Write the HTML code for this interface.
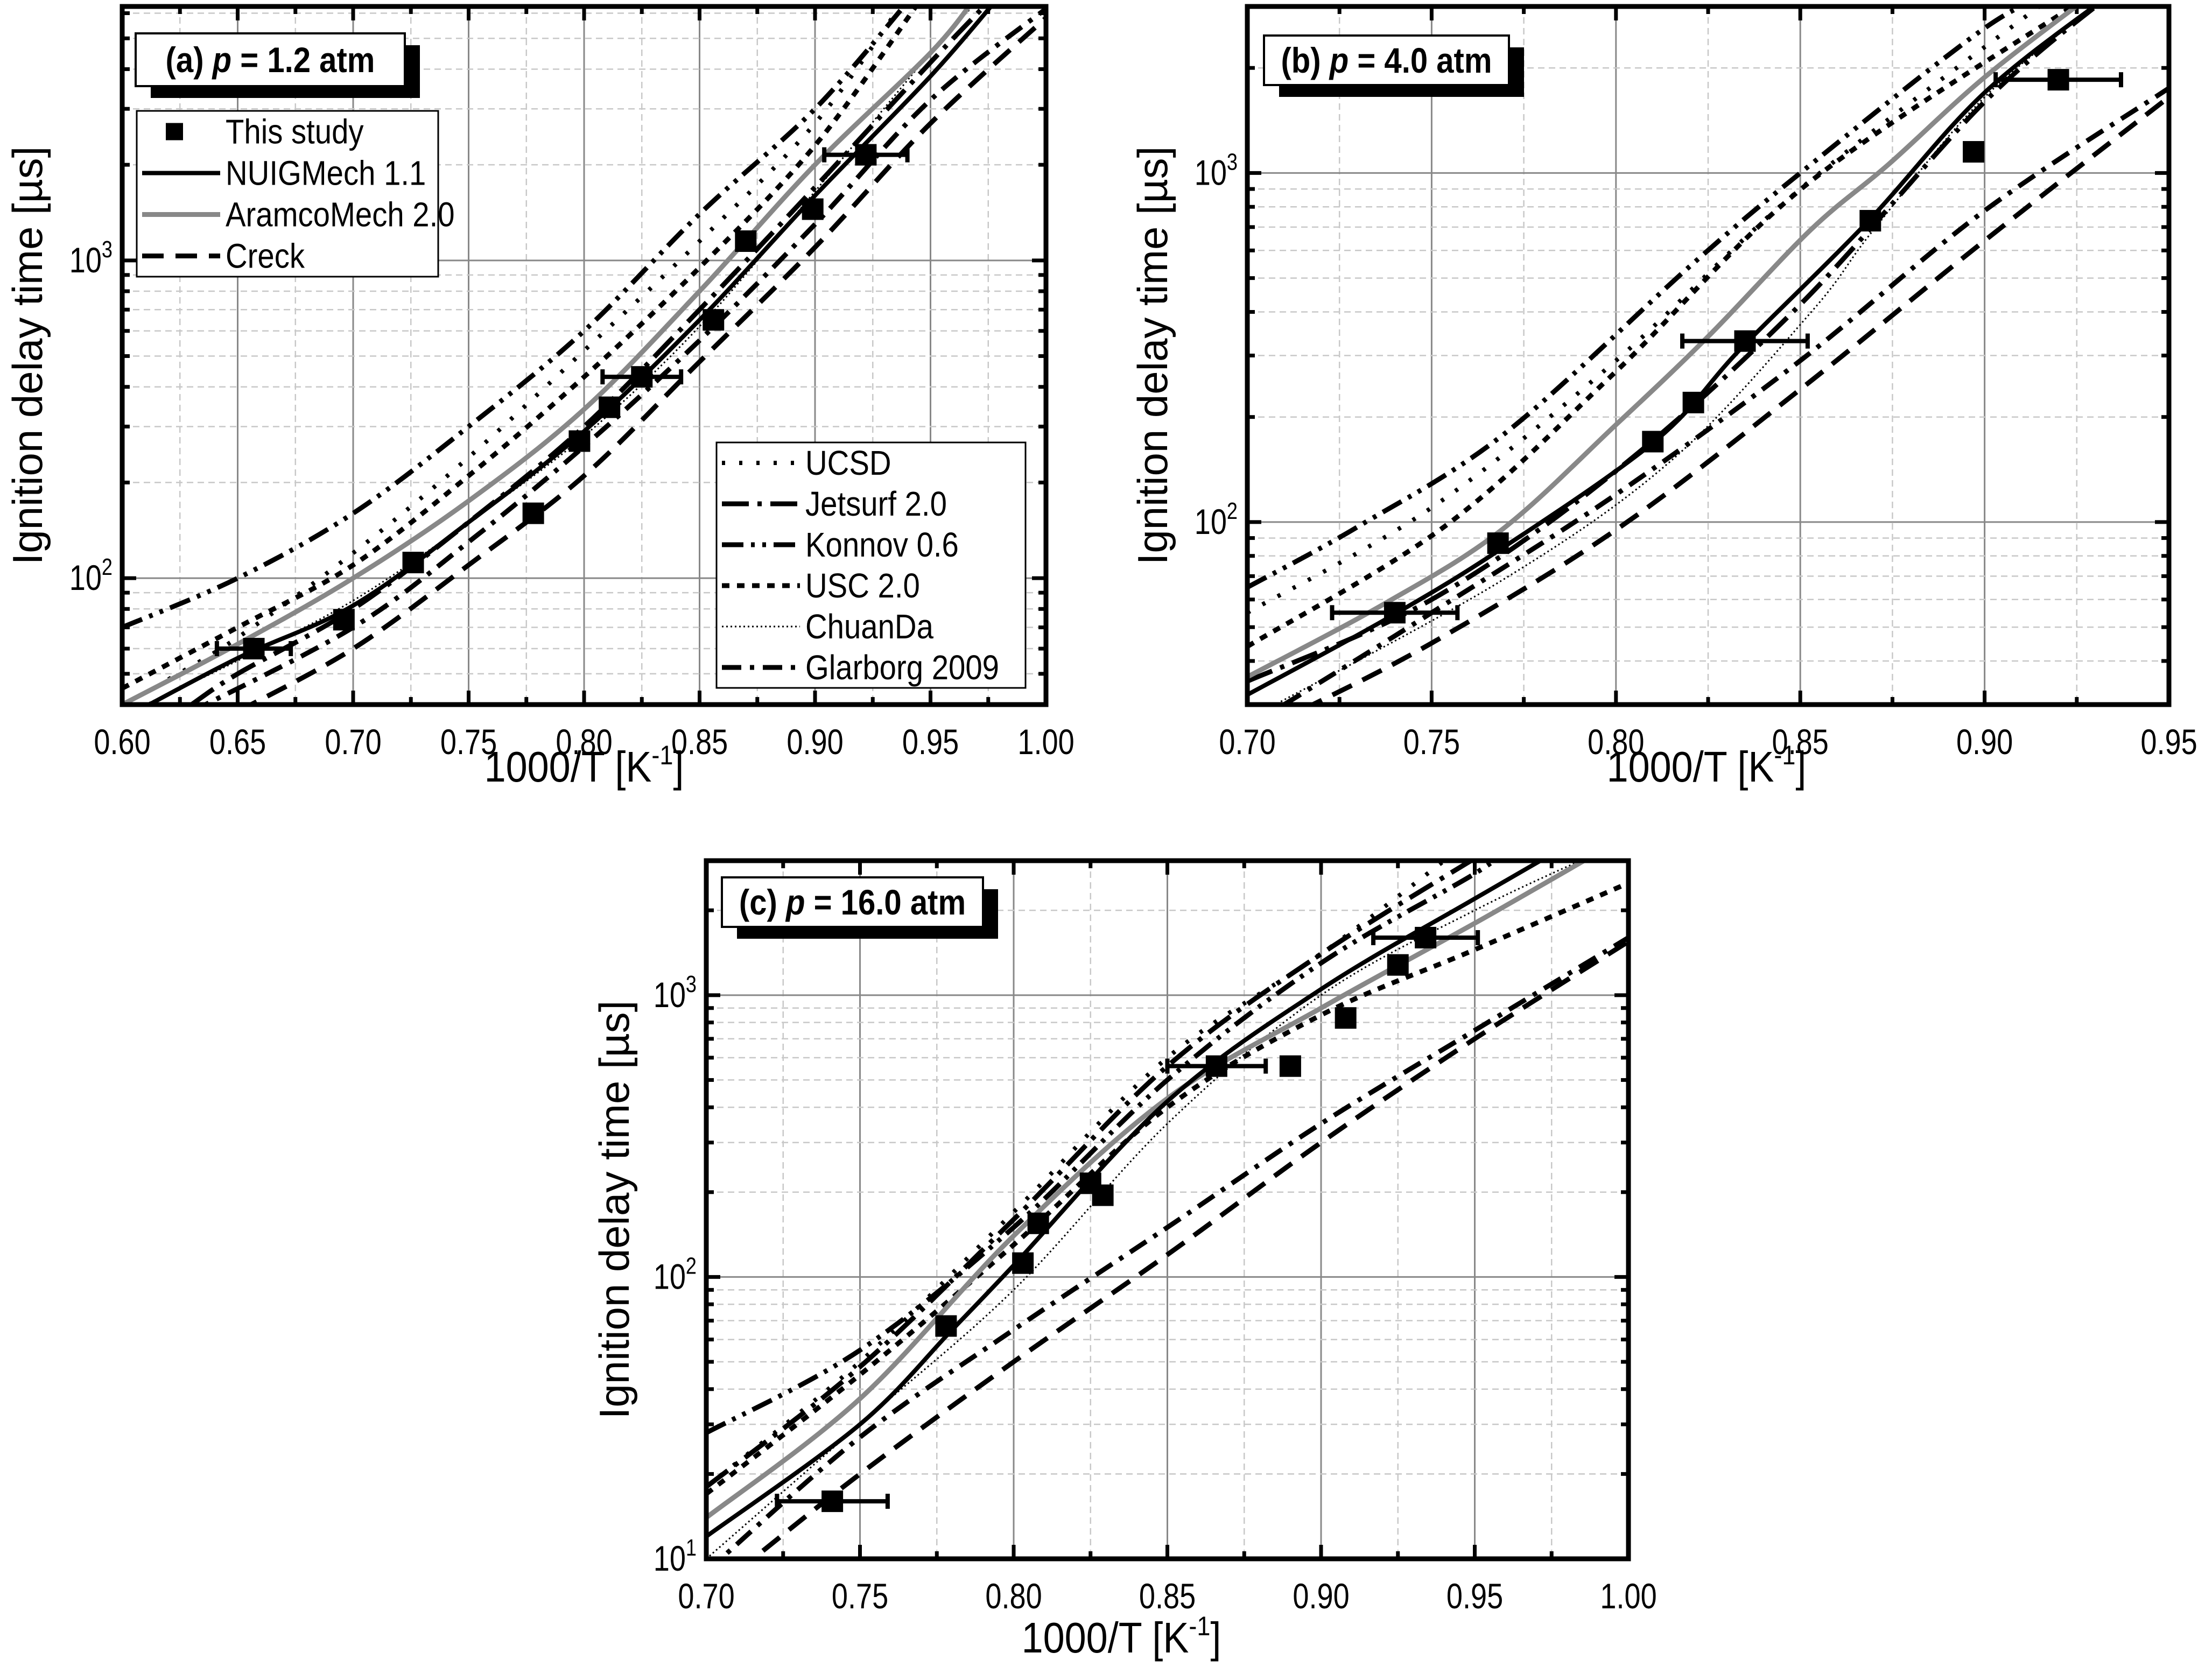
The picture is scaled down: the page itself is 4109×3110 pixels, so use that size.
<!DOCTYPE html>
<html><head><meta charset="utf-8"><style>
html,body{margin:0;padding:0;background:#fff;}
svg{display:block;}
text{font-family:"Liberation Sans",sans-serif;fill:#000;}
</style></head><body>
<svg id="fig" width="4109" height="3110" viewBox="0 0 4109 3110" xmlns="http://www.w3.org/2000/svg"></svg>
<script>
// ---------- data ----------
const seriesNames = ["NUIG","Aramco","Creck","UCSD","Jetsurf","Konnov","USC","ChuanDa","Glarborg"];
// panel (a) p=1.2 atm
const aExpX = [0.657,0.696,0.726,0.778,0.798,0.811,0.825,0.856,0.870,0.899,0.922];
const aExpY = [60,74,112,160,270,345,430,650,1150,1450,2150];
const aErrX = [0.657,0.825,0.922];
const aErrY = [60,430,2150];
const aErrW = [0.016,0.017,0.018];
const aNUIG_x = [0.60,0.65,0.70,0.75,0.80,0.85,0.90,0.95,0.98];
const aNUIG_y = [36,56,82,150,290,650,1600,3800,6800];
const aAramco_x = [0.60,0.65,0.70,0.75,0.80,0.85,0.90,0.95,0.97];
const aAramco_y = [40,62,100,175,340,800,2000,4500,6800];
const aCreck_x = [0.65,0.70,0.75,0.80,0.85,0.90,0.95,1.00];
const aCreck_y = [38,60,110,210,480,1100,2700,5800];
const aUCSD_x = [0.62,0.65,0.70,0.75,0.80,0.85,0.90,0.94];
const aUCSD_y = [48,65,120,240,520,1150,2700,6800];
const aJetsurf_x = [0.63,0.65,0.70,0.75,0.80,0.85,0.90,0.95,0.975];
const aJetsurf_y = [40,50,80,150,300,700,1700,4200,6500];
const aKonnov_x = [0.60,0.65,0.70,0.75,0.80,0.85,0.90,0.94];
const aKonnov_y = [70,100,160,300,600,1400,3000,6500];
const aUSC_x = [0.60,0.65,0.70,0.75,0.80,0.85,0.90,0.945];
const aUSC_y = [45,70,110,210,430,950,2300,6500];
const aChuanDa_x = [0.61,0.65,0.70,0.75,0.80,0.85,0.90,0.95,0.97];
const aChuanDa_y = [40,55,85,150,280,620,1650,4500,6500];
const aGlarborg_x = [0.63,0.70,0.75,0.80,0.85,0.90,0.95,1.00];
const aGlarborg_y = [38,70,130,260,560,1300,3200,6200];
// panel (b) p=4.0 atm
const bExpX = [0.740,0.768,0.810,0.821,0.835,0.869,0.897,0.920];
const bExpY = [55,87,170,220,330,730,1150,1850];
const bErrX = [0.740,0.835,0.920];
const bErrY = [55,330,1850];
const bErrW = [0.017,0.017,0.017];
const bNUIG_x = [0.70,0.738,0.769,0.811,0.834,0.868,0.90,0.935];
const bNUIG_y = [32,53,84,172,315,720,1700,3300];
const bAramco_x = [0.70,0.738,0.769,0.80,0.825,0.853,0.874,0.90,0.93];
const bAramco_y = [36,59,95,190,340,690,1060,1880,3300];
const bCreck_x = [0.715,0.75,0.80,0.85,0.90,0.95];
const bCreck_y = [29,45,95,240,640,1650];
const bUCSD_x = [0.70,0.75,0.80,0.85,0.92];
const bUCSD_y = [55,110,290,900,3300];
const bJetsurf_x = [0.70,0.75,0.80,0.85,0.90,0.935];
const bJetsurf_y = [35,60,140,420,1600,3300];
const bKonnov_x = [0.70,0.73,0.77,0.82,0.85,0.90,0.92];
const bKonnov_y = [65,97,180,540,1000,2600,3300];
const bUSC_x = [0.70,0.754,0.80,0.853,0.93];
const bUSC_y = [44,98,270,950,3300];
const bChuanDa_x = [0.705,0.769,0.815,0.853,0.87,0.90,0.935];
const bChuanDa_y = [29,68,150,400,690,1650,3300];
const bGlarborg_x = [0.71,0.75,0.80,0.85,0.90,0.95];
const bGlarborg_y = [30,55,120,290,780,1750];
// panel (c) p=16.0 atm
const cExpX = [0.741,0.778,0.803,0.808,0.825,0.829,0.866,0.890,0.908,0.925,0.934];
const cExpY = [16,67,112,155,215,195,560,560,830,1280,1600];
const cErrX = [0.741,0.866,0.934];
const cErrY = [16,560,1600];
const cErrW = [0.018,0.016,0.017];
const cNUIG_x = [0.70,0.75,0.78,0.80,0.85,0.90,0.95,0.98];
const cNUIG_y = [12,30,65,110,420,1050,2200,3400];
const cAramco_x = [0.70,0.75,0.80,0.85,0.90,0.95,0.99];
const cAramco_y = [14,37,140,430,900,1800,3200];
const cCreck_x = [0.71,0.75,0.80,0.85,0.90,0.95,1.00];
const cCreck_y = [9,20,50,120,300,700,1550];
const cUCSD_x = [0.70,0.75,0.80,0.85,0.90,0.945];
const cUCSD_y = [18,50,170,600,1400,3300];
const cJetsurf_x = [0.70,0.75,0.80,0.85,0.90,0.955];
const cJetsurf_y = [18,48,160,560,1400,3300];
const cKonnov_x = [0.70,0.75,0.80,0.85,0.90,0.95,0.96];
const cKonnov_y = [28,55,150,500,1300,2700,3300];
const cUSC_x = [0.70,0.75,0.80,0.85,0.90,0.95,1.00];
const cUSC_y = [17,45,130,400,850,1450,2500];
const cChuanDa_x = [0.70,0.75,0.80,0.85,0.90,0.95,0.99];
const cChuanDa_y = [10,30,90,350,1000,2000,3200];
const cGlarborg_x = [0.70,0.75,0.80,0.85,0.90,0.95,1.00];
const cGlarborg_y = [9,27,65,150,350,750,1600];

// ---------- drawing ----------
const NS = "http://www.w3.org/2000/svg";
const svg = document.getElementById("fig");
function mk(tag, attrs, parent){
  const e = document.createElementNS(NS, tag);
  for (const k in attrs) e.setAttribute(k, attrs[k]);
  (parent||svg).appendChild(e);
  return e;
}
const styles = {
  NUIG:{stroke:"#000",w:8,dash:""},
  Aramco:{stroke:"#888",w:9,dash:""},
  Creck:{stroke:"#000",w:9,dash:"40 22"},
  UCSD:{stroke:"#000",w:8,dash:"6 26"},
  Jetsurf:{stroke:"#000",w:9,dash:"50 16 8 16"},
  Konnov:{stroke:"#000",w:9,dash:"40 14 7 14 7 14"},
  USC:{stroke:"#000",w:9,dash:"14 14"},
  ChuanDa:{stroke:"#000",w:3,dash:"3 5"},
  Glarborg:{stroke:"#000",w:9,dash:"36 16 8 16"}
};
const panelData = {
  a:{NUIG:[aNUIG_x,aNUIG_y],Aramco:[aAramco_x,aAramco_y],Creck:[aCreck_x,aCreck_y],UCSD:[aUCSD_x,aUCSD_y],Jetsurf:[aJetsurf_x,aJetsurf_y],Konnov:[aKonnov_x,aKonnov_y],USC:[aUSC_x,aUSC_y],ChuanDa:[aChuanDa_x,aChuanDa_y],Glarborg:[aGlarborg_x,aGlarborg_y]},
  b:{NUIG:[bNUIG_x,bNUIG_y],Aramco:[bAramco_x,bAramco_y],Creck:[bCreck_x,bCreck_y],UCSD:[bUCSD_x,bUCSD_y],Jetsurf:[bJetsurf_x,bJetsurf_y],Konnov:[bKonnov_x,bKonnov_y],USC:[bUSC_x,bUSC_y],ChuanDa:[bChuanDa_x,bChuanDa_y],Glarborg:[bGlarborg_x,bGlarborg_y]},
  c:{NUIG:[cNUIG_x,cNUIG_y],Aramco:[cAramco_x,cAramco_y],Creck:[cCreck_x,cCreck_y],UCSD:[cUCSD_x,cUCSD_y],Jetsurf:[cJetsurf_x,cJetsurf_y],Konnov:[cKonnov_x,cKonnov_y],USC:[cUSC_x,cUSC_y],ChuanDa:[cChuanDa_x,cChuanDa_y],Glarborg:[cGlarborg_x,cGlarborg_y]}
};
const panels = [
  {id:"a",L:227,R:1943,T:12,B:1309,x0:0.60,x1:1.00,y0:40,y1:6300,exp:[aExpX,aExpY],err:[aErrX,aErrY,aErrW],title:["(a) ","p"," = 1.2 atm"],tb:[252,62,500,98],ytx:50,xtc:[1085,1452]},
  {id:"b",L:2317,R:4029,T:12,B:1309,x0:0.70,x1:0.95,y0:30,y1:3000,exp:[bExpX,bExpY],err:[bErrX,bErrY,bErrW],title:["(b) ","p"," = 4.0 atm"],tb:[2348,66,455,92],ytx:2140,xtc:[3170,1452]},
  {id:"c",L:1312,R:3025,T:1599,B:2896,x0:0.70,x1:1.00,y0:10,y1:3000,exp:[cExpX,cExpY],err:[cErrX,cErrY,cErrW],title:["(c) ","p"," = 16.0 atm"],tb:[1341,1630,485,92],ytx:1140,xtc:[2083,3070]}
];

function smoothPath(pts){
  if (pts.length<2) return "";
  let d = "M"+pts[0][0].toFixed(1)+","+pts[0][1].toFixed(1);
  for (let i=0;i<pts.length-1;i++){
    const p0=pts[Math.max(0,i-1)], p1=pts[i], p2=pts[i+1], p3=pts[Math.min(pts.length-1,i+2)];
    const c1=[p1[0]+(p2[0]-p0[0])/6, p1[1]+(p2[1]-p0[1])/6];
    const c2=[p2[0]-(p3[0]-p1[0])/6, p2[1]-(p3[1]-p1[1])/6];
    d += " C"+c1[0].toFixed(1)+","+c1[1].toFixed(1)+" "+c2[0].toFixed(1)+","+c2[1].toFixed(1)+" "+p2[0].toFixed(1)+","+p2[1].toFixed(1);
  }
  return d;
}

panels.forEach(P=>{
  const g = mk("g",{});
  
  
  const xs = v => P.L + (v-P.x0)/(P.x1-P.x0)*(P.R-P.L);
  const ly0=Math.log10(P.y0), ly1=Math.log10(P.y1);
  const ys = v => P.B - (Math.log10(v)-ly0)/(ly1-ly0)*(P.B-P.T);
  const clipId = "clip"+P.id;
  const cp = mk("clipPath",{id:clipId},g);
  mk("rect",{x:P.L,y:P.T,width:P.R-P.L,height:P.B-P.T},cp);
  const grid = mk("g",{},g);
  
  
  const xticks=[];
  for (let v=P.x0; v<=P.x1+1e-9; v+=0.025) xticks.push(Math.round(v*1000)/1000);
  xticks.forEach((v,i)=>{
    const major = Math.abs(Math.round(v*20)-v*20)<1e-6;
    const X=xs(v);
    if (X>P.L+3 && X<P.R-3) mk("line",{x1:X,y1:P.T,x2:X,y2:P.B,stroke:major?"#888":"#c8c8c8","stroke-width":major?3:2.5,"stroke-dasharray":major?"":"12 8"},grid);
    const tl = major?26:14;
    mk("line",{x1:X,y1:P.B,x2:X,y2:P.B-tl,stroke:"#000","stroke-width":7},g);
    mk("line",{x1:X,y1:P.T,x2:X,y2:P.T+tl,stroke:"#000","stroke-width":7},g);
    if (major){
      const t = mk("text",{x:0,y:0,"font-size":66,"text-anchor":"middle",transform:`translate(${X},${P.B+92}) scale(0.82,1)`},g);
      t.textContent = v.toFixed(2);
      
      
    }
  });
  for (let dec=Math.floor(ly0); dec<=Math.ceil(ly1); dec++){
    for (let m=1;m<=9;m++){
      const v=m*Math.pow(10,dec);
      if (v<P.y0*0.999||v>P.y1*1.001) continue;
      const Y=ys(v);
      const major = m===1;
      if (Y>P.T+3 && Y<P.B-3) mk("line",{x1:P.L,y1:Y,x2:P.R,y2:Y,stroke:major?"#888":"#c8c8c8","stroke-width":major?3:2.5,"stroke-dasharray":major?"":"12 8"},grid);
      const tl = major?26:14;
      mk("line",{x1:P.L,y1:Y,x2:P.L+tl,y2:Y,stroke:"#000","stroke-width":7},g);
      mk("line",{x1:P.R,y1:Y,x2:P.R-tl,y2:Y,stroke:"#000","stroke-width":7},g);
      if (major){
        const t = mk("text",{x:0,y:0,"font-size":66,"text-anchor":"end",transform:`translate(${P.L-18},${Y+22}) scale(0.82,1)`},g);
        
        
        const t1=mk("tspan",{},t); t1.textContent="10";
        const t2=mk("tspan",{dy:-28,"font-size":44},t); t2.textContent=String(dec);
      }
    }
  }
  const cg = mk("g",{"clip-path":"url(#"+clipId+")"},g);
  const order=["ChuanDa","Creck","Glarborg","Jetsurf","Konnov","USC","UCSD","Aramco","NUIG"];
  order.forEach(name=>{
    const [sx,sy]=panelData[P.id][name];
    const pts = sx.map((x,i)=>[xs(x),ys(sy[i])]);
    const st=styles[name];
    const p = mk("path",{d:smoothPath(pts),fill:"none",stroke:st.stroke,"stroke-width":st.w,"stroke-dasharray":st.dash,"stroke-linecap":"butt"},cg);
    
    
  });
  const [ex,ey,ew]=P.err;
  ex.forEach((x,i)=>{
    const Y=ys(ey[i]), X1=xs(x-ew[i]), X2=xs(x+ew[i]);
    const e=mk("path",{d:`M${X1},${Y}H${X2}M${X1},${Y-14}V${Y+14}M${X2},${Y-14}V${Y+14}`,stroke:"#000","stroke-width":8,fill:"none"},cg);
    
    
  });
  const [px,py]=P.exp;
  px.forEach((x,i)=>{
    const s=mk("rect",{x:xs(x)-20,y:ys(py[i])-20,width:40,height:40,fill:"#000"},cg);
    
    
  });
  const fr=mk("rect",{x:P.L,y:P.T,width:P.R-P.L,height:P.B-P.T,fill:"none",stroke:"#000","stroke-width":9},g);
  
  
  const yt=mk("text",{x:0,y:0,"font-size":78,"text-anchor":"middle",transform:`translate(${P.ytx+28},${(P.T+P.B)/2}) rotate(-90)`},g);
  yt.textContent="Ignition delay time [\u00b5s]";
  
  
  const xt=mk("text",{x:0,y:0,"font-size":80,"text-anchor":"middle",transform:`translate(${P.xtc[0]},${P.xtc[1]}) scale(0.9,1)`},g);
  
  
  const a1=mk("tspan",{},xt); a1.textContent="1000/T [K";
  const a2=mk("tspan",{dy:-32,"font-size":50},xt); a2.textContent="-1";
  const a3=mk("tspan",{dy:32},xt); a3.textContent="]";
  const [bx,by,bw,bh]=P.tb;
  mk("rect",{x:bx+28,y:by+22,width:bw,height:bh,fill:"#000"},g);
  const tbox=mk("rect",{x:bx,y:by,width:bw,height:bh,fill:"#fff",stroke:"#000","stroke-width":4},g);
  
  
  const tt=mk("text",{x:0,y:0,"font-size":66,"font-weight":"bold","text-anchor":"middle",transform:`translate(${bx+bw/2},${by+bh/2+23}) scale(0.88,1)`},g);
  
  
  const s1=mk("tspan",{},tt); s1.textContent=P.title[0];
  const s2=mk("tspan",{"font-style":"italic"},tt); s2.textContent=P.title[1];
  const s3=mk("tspan",{},tt); s3.textContent=P.title[2];
});

function legend(x,y,w,h,entries,name){
  const g=mk("g",{});
  
  
  mk("rect",{x:x,y:y,width:w,height:h,fill:"#fff",stroke:"#000","stroke-width":3},g);
  const rowH=h/entries.length;
  entries.forEach((e,i)=>{
    const cy=y+rowH*(i+0.5);
    const eg=mk("g",{},g);
    
    
    if (e.marker){
      mk("rect",{x:x+70-16,y:cy-16,width:32,height:32,fill:"#000"},eg);
    } else {
      const st=styles[e.key];
      mk("line",{x1:x+10,y1:cy,x2:x+155,y2:cy,stroke:st.stroke,"stroke-width":st.w,"stroke-dasharray":st.dash},eg);
    }
    const t=mk("text",{x:0,y:0,"font-size":64,transform:`translate(${x+165},${cy+22}) scale(0.88,1)`},eg);
    t.textContent=e.label;
  });
}
legend(254,206,560,308,[{marker:true,label:"This study"},{key:"NUIG",label:"NUIGMech 1.1"},{key:"Aramco",label:"AramcoMech 2.0"},{key:"Creck",label:"Creck"}],"legend-main");
legend(1331,822,574,456,[{key:"UCSD",label:"UCSD"},{key:"Jetsurf",label:"Jetsurf 2.0"},{key:"Konnov",label:"Konnov 0.6"},{key:"USC",label:"USC 2.0"},{key:"ChuanDa",label:"ChuanDa"},{key:"Glarborg",label:"Glarborg 2009"}],"legend-mechanisms");
</script>
</body></html>
